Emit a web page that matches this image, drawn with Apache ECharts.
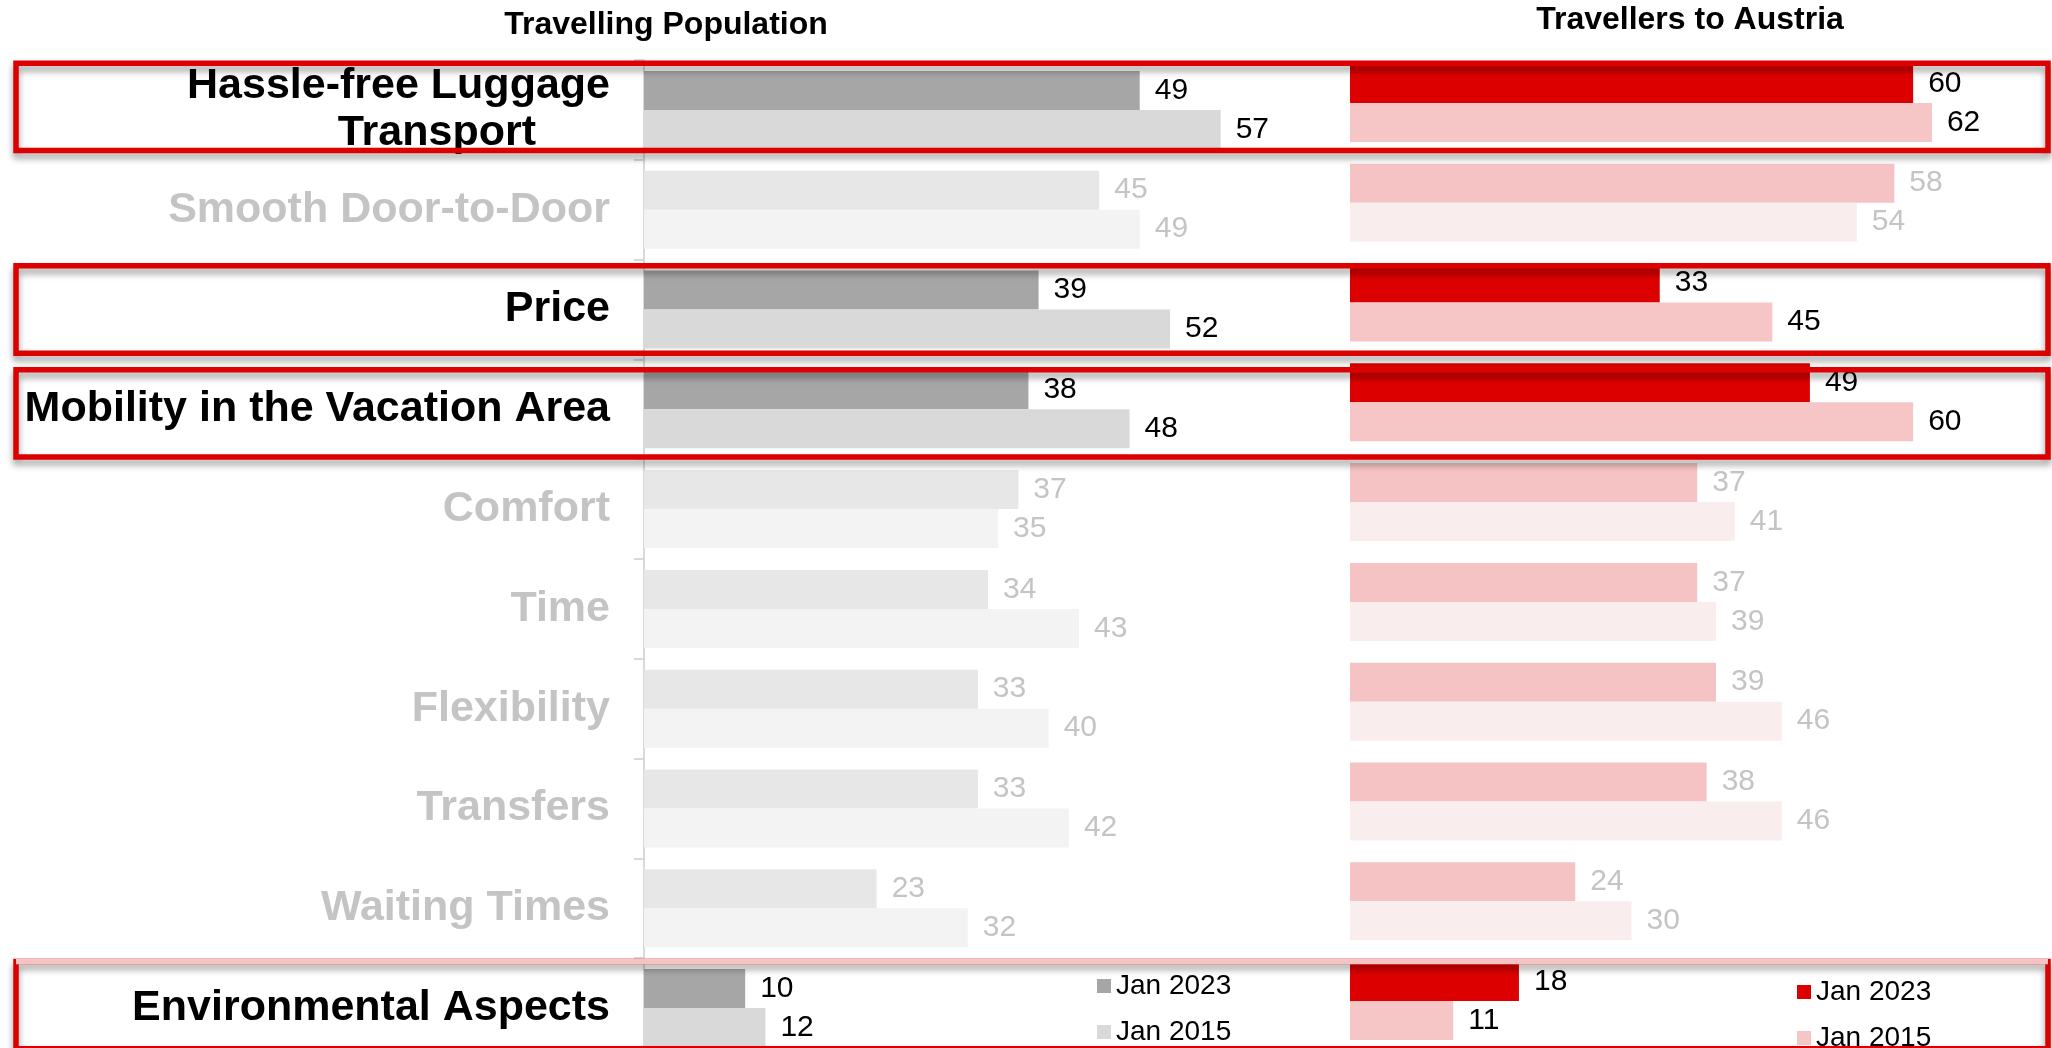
<!DOCTYPE html>
<html>
<head>
<meta charset="utf-8">
<script src="https://cdn.jsdelivr.net/npm/echarts@6/dist/echarts.min.js"></script>
<style>
  html, body { margin: 0; padding: 0; background: #ffffff; overflow: hidden; }
  #main { width: 2052px; height: 1080px; }
</style>
</head>
<body>
<div id="main"></div>
<script>
// ---- data ----
const categories = [
  'Hassle-free Luggage\nTransport',
  'Smooth Door-to-Door',
  'Price',
  'Mobility in the Vacation Area',
  'Comfort',
  'Time',
  'Flexibility',
  'Transfers',
  'Waiting Times',
  'Environmental Aspects'
];
const highlighted = [true, false, true, true, false, false, false, false, false, true];
const population2023 = [49, 45, 39, 38, 37, 34, 33, 33, 23, 10];
const population2015 = [57, 49, 52, 48, 35, 43, 40, 42, 32, 12];
const austria2023 = [60, 58, 33, 49, 37, 37, 39, 38, 24, 18];
const austria2015 = [62, 54, 45, 60, 41, 39, 46, 46, 30, 11];
const panelTitles = ['Travelling Population', 'Travellers to Austria'];
const legendNames = ['Jan 2023', 'Jan 2015'];

// ---- styles ----
const FONT = 'Liberation Sans, Arial, Helvetica, sans-serif';
const GREY_TEXT = '#c4c4c4';
const colors = {
  pop2023: { hi: '#a6a6a6', lo: '#e7e7e7' },
  pop2015: { hi: '#d9d9d9', lo: '#f3f3f3' },
  aut2023: { hi: '#dd0000', lo: '#f5c3c3' },
  aut2015: { hi: '#f6c6c6', lo: '#f9eded' }
};

function buildData(values, palette) {
  return values.map((v, i) => ({
    value: v,
    itemStyle: { color: highlighted[i] ? palette.hi : palette.lo },
    label: { color: highlighted[i] ? '#000000' : GREY_TEXT }
  }));
}

function barSeries(name, values, palette, axisIdx) {
  return {
    type: 'bar',
    name: name,
    xAxisIndex: axisIdx,
    yAxisIndex: axisIdx,
    barWidth: 39,
    barGap: '0%',
    itemStyle: { color: palette.hi },
    label: {
      show: true,
      position: 'right',
      distance: 15,
      fontFamily: FONT,
      fontSize: 30
    },
    silent: true,
    animation: false,
    data: buildData(values, palette)
  };
}

const chart = echarts.init(document.getElementById('main'));

const labelRich = {
  hi: { fontFamily: FONT, fontSize: 43, fontWeight: 'bold', color: '#000000', lineHeight: 47 },
  lo: { fontFamily: FONT, fontSize: 43, fontWeight: 'bold', color: GREY_TEXT, lineHeight: 47 },
  tp: { fontFamily: FONT, fontSize: 43, fontWeight: 'bold', color: '#000000', lineHeight: 47, padding: [0, 74, 0, 0] }
};

function legendSpec(x, y, c1, c2) {
  return {
    left: x, top: y, height: 120, padding: 0, orient: 'vertical',
    itemWidth: 14, itemHeight: 14, itemGap: 18,
    icon: 'rect', selectedMode: false,
    textStyle: { fontFamily: FONT, fontSize: 28, color: '#000' },
    data: [
      { name: legendNames[0], itemStyle: { color: c1 } },
      { name: legendNames[1], itemStyle: { color: c2 } }
    ]
  };
}

chart.setOption({
  backgroundColor: '#ffffff',
  animation: false,
  title: [
    { text: panelTitles[0], left: 666, top: 9, textAlign: 'center', padding: 0,
      textStyle: { fontFamily: FONT, fontSize: 32, fontWeight: 'bold', color: '#000' } },
    { text: panelTitles[1], left: 1690, top: 4, textAlign: 'center', padding: 0,
      textStyle: { fontFamily: FONT, fontSize: 32, fontWeight: 'bold', color: '#000' } }
  ],
  legend: [
    legendSpec(1097, 972, colors.pop2023.hi, colors.pop2015.hi),
    legendSpec(1797, 978, colors.aut2023.hi, colors.aut2015.hi)
  ],
  grid: [
    { left: 644, top: 60, width: 607, height: 998 },
    { left: 1350, top: 53, width: 657, height: 998 }
  ],
  xAxis: [
    { type: 'value', gridIndex: 0, min: 0, max: 60, show: false },
    { type: 'value', gridIndex: 1, min: 0, max: 70, show: false }
  ],
  yAxis: [
    { type: 'category', gridIndex: 0, inverse: true, data: categories,
      axisLine: { show: true, lineStyle: { color: '#d9d9d9', width: 2 } },
      axisTick: { show: true, length: 10, lineStyle: { color: '#d9d9d9', width: 2 } },
      splitLine: { show: false },
      axisLabel: {
        margin: 34,
        formatter: function (value, idx) {
          if (value.indexOf('\n') >= 0) {
            const parts = value.split('\n');
            return '{hi|' + parts[0] + '}\n{tp|' + parts[1] + '}';
          }
          return (highlighted[idx] ? '{hi|' : '{lo|') + value + '}';
        },
        rich: labelRich
      } },
    { type: 'category', gridIndex: 1, inverse: true, data: categories, show: false }
  ],
  series: [
    barSeries(legendNames[0], population2023, colors.pop2023, 0),
    barSeries(legendNames[1], population2015, colors.pop2015, 0),
    barSeries(legendNames[0], austria2023, colors.aut2023, 1),
    barSeries(legendNames[1], austria2015, colors.aut2015, 1)
  ]
});

// highlight frames around the emphasised rows, positioned from the category axis
const y0 = chart.convertToPixel({ yAxisIndex: 0 }, 0);
const y1 = chart.convertToPixel({ yAxisIndex: 0 }, 1);
const pitch = y1 - y0;
const frameH = pitch * 0.875;
const frameShift = { 0: -3, 2: 0, 3: 4, 9: -3 };
const frames = [];
highlighted.forEach((h, i) => {
  if (!h) return;
  const cy = chart.convertToPixel({ yAxisIndex: 0 }, i) + (frameShift[i] || 0);
  frames.push({
    type: 'rect', z: 100, silent: true,
    shape: { x: 16, y: cy - frameH / 2, width: 2032, height: frameH },
    style: { fill: 'none', stroke: '#dd0000', lineWidth: 5.5,
      shadowBlur: 7, shadowOffsetY: 5, shadowColor: 'rgba(0,0,0,0.4)' }
  });
  if (i === categories.length - 1) {
    frames.push({
      type: 'line', z: 101, silent: true,
      shape: { x1: 16, y1: cy - frameH / 2, x2: 2048, y2: cy - frameH / 2 },
      style: { stroke: '#f5c3c3', lineWidth: 5.5 }
    });
  }
});
chart.setOption({ graphic: frames });
</script>
</body>
</html>
